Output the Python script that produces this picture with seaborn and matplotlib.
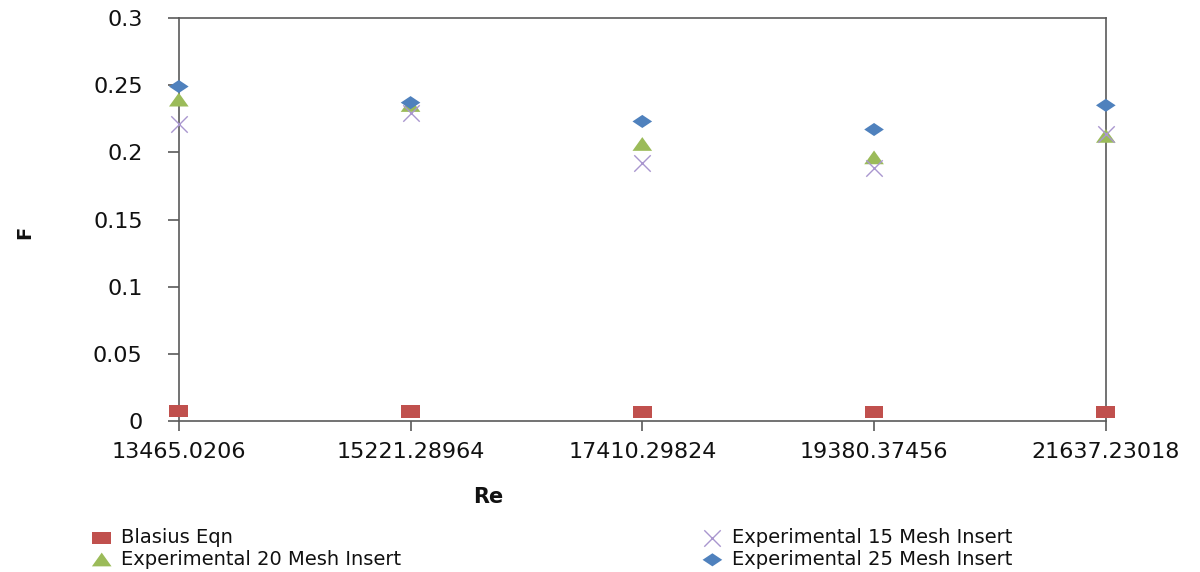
import numpy as np
import pandas as pd
import matplotlib
matplotlib.use("Agg")
import matplotlib.pyplot as plt
import seaborn as sns

# Re values (shown as category labels on x axis)
re_labels = ["13465.0206", "15221.28964", "17410.29824", "19380.37456", "21637.23018"]

# friction factor
blasius = [0.00733, 0.00711, 0.00688, 0.00670, 0.00651]
mesh15 = [0.221, 0.229, 0.192, 0.188, 0.214]
mesh20 = [0.239, 0.235, 0.206, 0.196, 0.212]
mesh25 = [0.249, 0.237, 0.223, 0.217, 0.235]

sns.set_theme(style="white")
plt.rcParams['font.family'] = ['DejaVu Sans']
plt.rcParams['text.color'] = '#111111'

pos = np.arange(len(re_labels))
df = pd.DataFrame({"pos": pos, "blasius": blasius, "m15": mesh15,
                   "m20": mesh20, "m25": mesh25})

# stretched marker shapes like the excel export
sq = [(-1.5, -1), (1.5, -1), (1.5, 1), (-1.5, 1), (-1.5, -1)]
tri = [(-1.5, -1), (1.5, -1), (0, 1.1), (-1.5, -1)]
dia = [(-1.5, 0), (0, 1), (1.5, 0), (0, -1), (-1.5, 0)]

fig = plt.figure(figsize=(12, 5.72), dpi=100)
ax = fig.add_axes([0.149, 0.264, 0.7725, 0.7045])

sns.scatterplot(data=df, x="pos", y="blasius", marker=sq, s=180, color="#C0504D",
                edgecolor="none", label="Blasius Eqn", ax=ax, clip_on=False, zorder=3)
sns.scatterplot(data=df, x="pos", y="m20", marker=tri, s=200, color="#9BBB59",
                edgecolor="none", label="Experimental 20 Mesh Insert", ax=ax, clip_on=False, zorder=3)
sns.scatterplot(data=df, x="pos", y="m15", marker="x", s=140, color="#A996CF",
                linewidth=1.0, label="Experimental 15 Mesh Insert", ax=ax, clip_on=False, zorder=3)
sns.scatterplot(data=df, x="pos", y="m25", marker=dia, s=200, color="#4F81BD",
                edgecolor="none", label="Experimental 25 Mesh Insert", ax=ax, clip_on=False, zorder=4)

ax.set_xlim(0, 4)
ax.set_ylim(0, 0.3)
ax.set_yticks(np.arange(0, 0.301, 0.05))
ax.set_yticklabels(["0", "0.05", "0.1", "0.15", "0.2", "0.25", "0.3"])
ax.set_xticks(pos)
ax.set_xticklabels(re_labels)

for s in ax.spines.values():
    s.set_visible(True)
    s.set_color("#5a5a5a")
    s.set_linewidth(1.2)

ax.tick_params(axis="y", direction="out", length=8, width=1.2, color="#5a5a5a",
               pad=18, labelsize=16, left=True, labelcolor="#111111")
ax.tick_params(axis="x", direction="out", length=7, width=1.2, color="#5a5a5a",
               pad=8, labelsize=16, bottom=True, labelcolor="#111111")

ax.set_xlabel("")
ax.set_ylabel("")
fig.text(488 / 1200, 1 - 497 / 572, "Re", fontsize=15, fontweight="bold",
         ha="center", va="center")
fig.text(25 / 1200, 1 - 232 / 572, "F", fontsize=14, fontweight="bold",
         ha="center", va="center", rotation=90)

ax.get_legend().remove()
h, l = ax.get_legend_handles_labels()
fig.legend(h, l, ncol=2,
           loc="upper left", bbox_to_anchor=(92 / 1200, 1 - 528 / 572),
           frameon=False, fontsize=14, handlelength=1.0, handletextpad=0.5,
           labelspacing=0.15, columnspacing=15.5, borderaxespad=0, borderpad=0)

fig.savefig("out.png", dpi=100, facecolor="white")
